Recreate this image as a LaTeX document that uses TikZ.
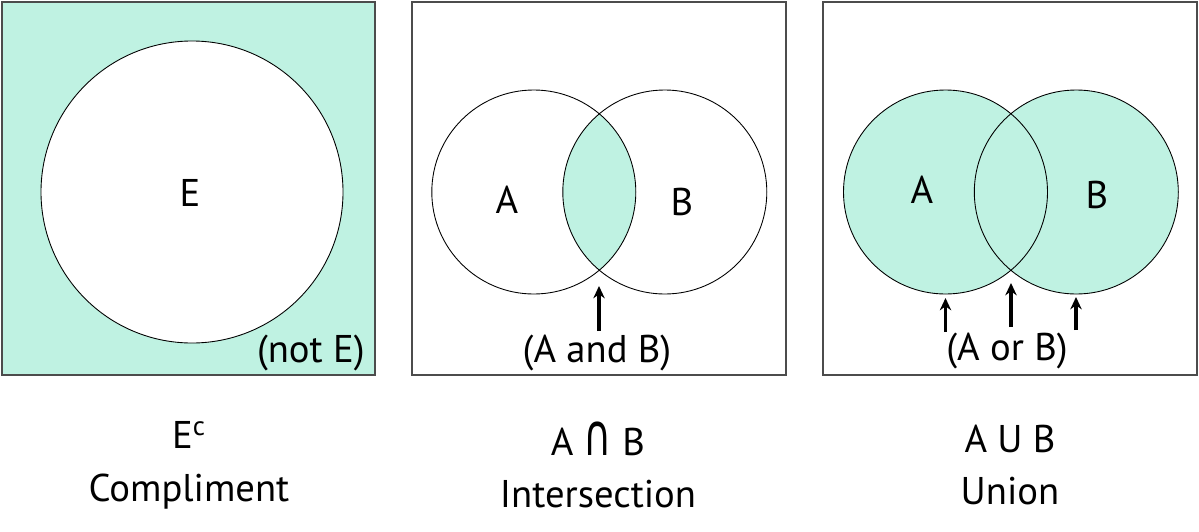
\documentclass[tikz,border=0pt]{standalone}
\usepackage{fontspec}
\usepackage{graphicx}
\setmainfont{PT Sans}
\newfontfamily\symfont{DejaVu Sans}
\usetikzlibrary{arrows.meta}
\definecolor{mint}{RGB}{191,242,226}

\begin{document}
\begin{tikzpicture}[x=0.02cm,y=-0.02cm,>={Stealth[length=7pt,width=6.5pt]},
  panel/.style={draw=black!70,line width=0.6pt},
  setline/.style={draw,line width=0.5pt},
  pointer/.style={->,line width=1.8pt},
  lbl/.style={font=\fontsize{22}{26}\selectfont,inner sep=0pt},
  caption/.style={font=\fontsize{22}{30}\selectfont,align=center,inner sep=0pt}]
\useasboundingbox (0,0) rectangle (1199,531);

% complement
\fill[mint] (2,2) rectangle (375,375);
\path[setline,fill=white] (192,192) circle (151);
\draw[panel] (2,2) rectangle (375,375);
\node[lbl] (E) at (190,193) {E};
\node[lbl,anchor=east] (notE) at (365,353) {(not E)};

% intersection
\coordinate (cA) at (533.8,192);
\coordinate (cB) at (664.8,192);
\begin{scope}
  \clip (cA) circle (102);
  \fill[mint] (cB) circle (102);
\end{scope}
\draw[setline] (cA) circle (102) (cB) circle (102);
\draw[panel] (412,2) rectangle (786,375);
\node[lbl] (A1) at (507,200) {A};
\node[lbl] (B1) at (682,202) {B};
\node[lbl] (and) at (597,353) {(A and B)};
\coordinate (tip1) at (599,286);
\draw[pointer] (599,331) -- (tip1);

% union
\coordinate (uA) at (945.5,192);
\coordinate (uB) at (1076.3,192);
\fill[mint] (uA) circle (102) (uB) circle (102);
\draw[setline] (uA) circle (102) (uB) circle (102);
\draw[panel] (823,2) rectangle (1197,375);
\node[lbl] (A2) at (922,190) {A};
\node[lbl] (B2) at (1097,195) {B};
\node[lbl] (or) at (1007,351) {(A or B)};
\coordinate (tipL) at (945.5,298);
\coordinate (tipM) at (1011,283);
\coordinate (tipR) at (1076,297);
\draw[pointer] (945.5,332) -- (tipL);
\draw[pointer] (1011,327) -- (tipM);
\draw[pointer] (1076,330) -- (tipR);

% captions
\node[caption] (cap1) at (189,465) {E\textsuperscript{c}\\Compliment};
\node[caption] (cap2) at (598,465) {A \scalebox{1}[1.5]{\symfont∩} B\\Intersection};
\node[caption] (cap3) at (1010,465) {A U B\\Union};
\end{tikzpicture}
\end{document}
